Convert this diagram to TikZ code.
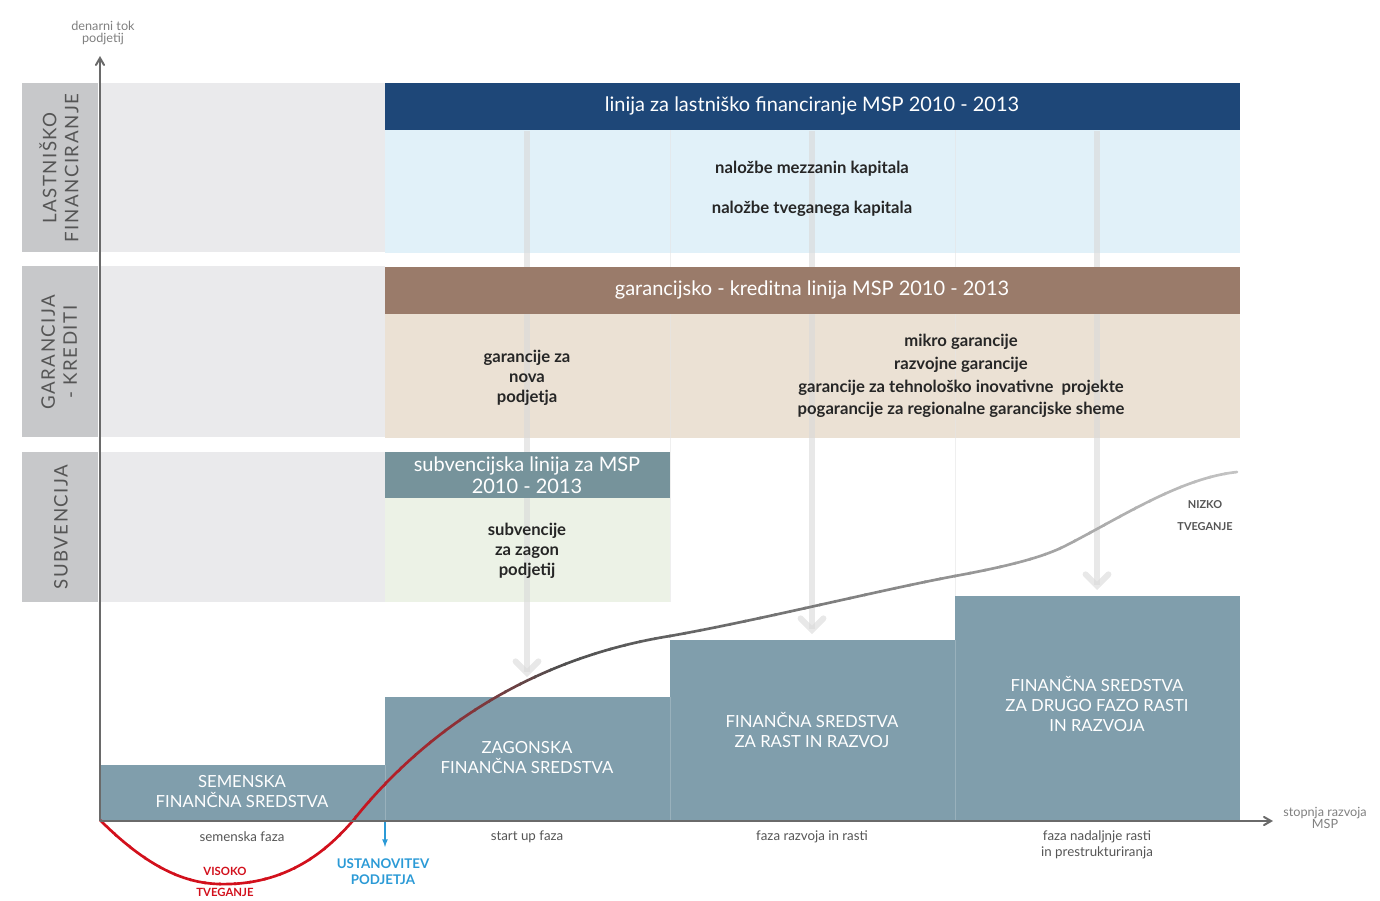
\documentclass[tikz,border=0pt]{standalone}
\usepackage{fontspec}
\setmainfont{Lato}
\usetikzlibrary{arrows}

\definecolor{lastblue}{HTML}{1E4778}
\definecolor{lastbody}{HTML}{E1F1F9}
\definecolor{garbrown}{HTML}{9A7B6A}
\definecolor{garbody}{HTML}{EBE1D4}
\definecolor{subteal}{HTML}{76939B}
\definecolor{subbody}{HTML}{ECF2E6}
\definecolor{bargray}{HTML}{809EAC}
\definecolor{bandgray}{HTML}{EAEAEC}
\definecolor{tabgray}{HTML}{C7C8CA}
\definecolor{axisgray}{HTML}{6A6A6A}
\definecolor{txtgray}{HTML}{555555}
\definecolor{riskred}{HTML}{D2101C}
\definecolor{curvdark}{HTML}{4F4F4F}
\definecolor{curvlight}{HTML}{C4C4C4}
\definecolor{startblue}{HTML}{2B9AD6}

\def\riskpath{(100,820) .. controls (160,880) and (200,885) .. (230,884) .. controls (290,882) and (330,850) .. (360,812) .. controls (420,740) and (520,660) .. (670,636) .. controls (760,620) and (880,590) .. (955,576) .. controls (1015,565) and (1045,556) .. (1065,546) .. controls (1120,518) and (1180,478) .. (1237,472)}

\begin{document}
\begin{tikzpicture}[x=0.75pt,y=0.75pt,yscale=-1,xscale=1,
  headtxt/.style={text=white,font=\fontsize{15}{16.5}\selectfont,align=center,inner sep=0.75pt},
  bodytxt/.style={text=black!85,font=\bfseries\fontsize{12.5}{15}\selectfont,align=center,inner sep=0.75pt},
  bartxt/.style={text=white,font=\fontsize{12.5}{15}\selectfont,align=center,inner sep=0.75pt},
  tabtxt/.style={text=txtgray,font=\addfontfeatures{LetterSpace=8}\fontsize{14}{16.5}\selectfont,align=center,rotate=90,inner sep=0.75pt},
  phasetxt/.style={text=txtgray,font=\fontsize{10}{12}\selectfont,align=center,inner sep=0.75pt},
  liftarrow/.style={draw=gray!30,opacity=0.6,line width=4.5pt,-angle 90},
  axisline/.style={draw=axisgray,line width=1.5pt,-angle 60},
  riskline/.style={line width=2pt,line cap=round}]
%set diagram size 1380 x 900
\path[use as bounding box] (0,0) rectangle (1380,900);

%Shape: Rectangle (left tabs)
\fill[tabgray] (22,83) rectangle (98,252);
\fill[tabgray] (22,266) rectangle (98,437);
\fill[tabgray] (22,452) rectangle (98,602);
%Shape: Rectangle (light band)
\fill[bandgray] (100,83) rectangle (385,252);
\fill[bandgray] (100,266) rectangle (385,437);
\fill[bandgray] (100,452) rectangle (385,602);
%Shape: Rectangle (bodies)
\fill[lastbody] (385,130) rectangle (1240,253);
\fill[garbody] (385,314) rectangle (1240,438);
\fill[subbody] (385,498) rectangle (670,602);
%Straight Lines (faint column lines)
\foreach \cx in {670,955}
  \draw[black!10,opacity=0.6,line width=0.75pt] (\cx,130) -- (\cx,602);

%Lift arrows
\coordinate (a1s) at (527,131);
\coordinate (a1e) at (527,677);
\coordinate (a2s) at (812,131);
\coordinate (a2e) at (812,634);
\coordinate (a3s) at (1097,131);
\coordinate (a3e) at (1097,590);
\draw[liftarrow] (a1s) -- (a1e);
\draw[liftarrow] (a2s) -- (a2e);
\draw[liftarrow] (a3s) -- (a3e);

%Shape: Rectangle (headers)
\fill[lastblue] (385,83) rectangle (1240,130);
\fill[garbrown] (385,267) rectangle (1240,314);
\fill[subteal] (385,452) rectangle (670,498);

%Shape: Rectangle (bars)
\fill[bargray] (100,765) rectangle (385,820);
\fill[bargray] (385,697) rectangle (670,820);
\fill[bargray] (670,640) rectangle (955,820);
\fill[bargray] (955,596) rectangle (1240,820);
\foreach \cx/\cy in {385/765,670/697,955/640}
  \draw[white,opacity=0.2,line width=0.75pt] (\cx,\cy) -- (\cx,820);

%Curve with colour fade
\foreach \i in {0,...,76}{
  \pgfmathsetmacro{\xa}{100+15*\i}
  \pgfmathsetmacro{\pa}{min(100,max(0,(\xa+7-340)/2.2))}
  \pgfmathsetmacro{\pb}{min(100,max(0,(\xa+7-560)/6.8))}
  \colorlet{riskA}{curvdark!\pa!riskred}
  \colorlet{riskB}{curvlight!\pb!riskA}
  \begin{scope}
    \clip (\xa-1,400) rectangle (\xa+16,905);
    \draw[riskline,riskB] \riskpath;
  \end{scope}
}

%Axes
\coordinate (o) at (100,821);
\coordinate (ytop) at (100,56);
\coordinate (xend) at (1273,821);
\draw[axisline] (o) -- (ytop);
\draw[axisline] (o) -- (xend);

%Start arrow
\coordinate (us) at (385,822);
\coordinate (ue) at (385,847);
\draw[startblue,line width=1pt,-latex] (us) -- (ue);

% Text Node
\node[tabtxt] (lastTab) at (59,168) {LASTNIŠKO\\FINANCIRANJE};
\node[tabtxt] (garTab) at (59,352) {GARANCIJA\\- KREDITI};
\node[tabtxt] (subTab) at (61,527) {SUBVENCIJA};
% Text Node
\node[headtxt] (lastHead) at (812,106) {linija za lastniško financiranje MSP 2010 - 2013};
\node[headtxt] (garHead) at (812,290) {garancijsko - kreditna linija MSP 2010 - 2013};
\node[headtxt] (subHead) at (527,475) {subvencijska linija za MSP\\2010 - 2013};
% Text Node
\node[bodytxt] (mezTxt) at (812,169) {naložbe mezzanin kapitala};
\node[bodytxt] (tvgTxt) at (812,209) {naložbe tveganega kapitala};
\node[bodytxt] (novaTxt) at (527,378) {garancije za\\nova\\podjetja};
\node[bodytxt,font=\bfseries\fontsize{12.5}{17}\selectfont] (mikroTxt) at (961,376) {mikro garancije\\razvojne garancije\\garancije za tehnološko inovativne\ \ projekte\\pogarancije za regionalne garancijske sheme};
\node[bodytxt] (zagonTxt) at (527,551) {subvencije\\za zagon\\podjetij};
% Text Node
\node[bartxt] (semTxt) at (242,792) {SEMENSKA\\FINANČNA SREDSTVA};
\node[bartxt] (zagTxt) at (527,758) {ZAGONSKA\\FINANČNA SREDSTVA};
\node[bartxt] (rastTxt) at (812,730) {FINANČNA SREDSTVA\\ZA RAST IN RAZVOJ};
\node[bartxt] (drugoTxt) at (1097,704) {FINANČNA SREDSTVA\\ZA DRUGO FAZO RASTI\\IN RAZVOJA};
% Text Node
\node[phasetxt] (semFaza) at (242,837) {semenska faza};
\node[phasetxt] (startFaza) at (527,837) {start up faza};
\node[phasetxt] (rastFaza) at (812,837) {faza razvoja in rasti};
\node[phasetxt] (naprejFaza) at (1097,845) {faza nadaljnje rasti\\in prestrukturiranja};
\node[phasetxt,text=gray,font=\fontsize{9.5}{9.5}\selectfont] (yLab) at (103,33) {denarni tok\\podjetij};
\node[phasetxt,text=gray,font=\fontsize{9.5}{9.5}\selectfont] (xLab) at (1325,818) {stopnja razvoja\\MSP};
% Text Node
\node[text=riskred,font=\bfseries\fontsize{8.5}{16}\selectfont,align=center,inner sep=0.75pt] (visoko) at (225,882) {VISOKO\\TVEGANJE};
\node[text=startblue,font=\bfseries\fontsize{10}{12}\selectfont,align=center,inner sep=0.75pt] (ustan) at (383,872) {USTANOVITEV\\PODJETJA};
\node[text=txtgray,font=\bfseries\fontsize{8.2}{16.5}\selectfont,align=center,inner sep=0.75pt] (nizko) at (1205,516) {NIZKO\\TVEGANJE};

\end{tikzpicture}
\end{document}
